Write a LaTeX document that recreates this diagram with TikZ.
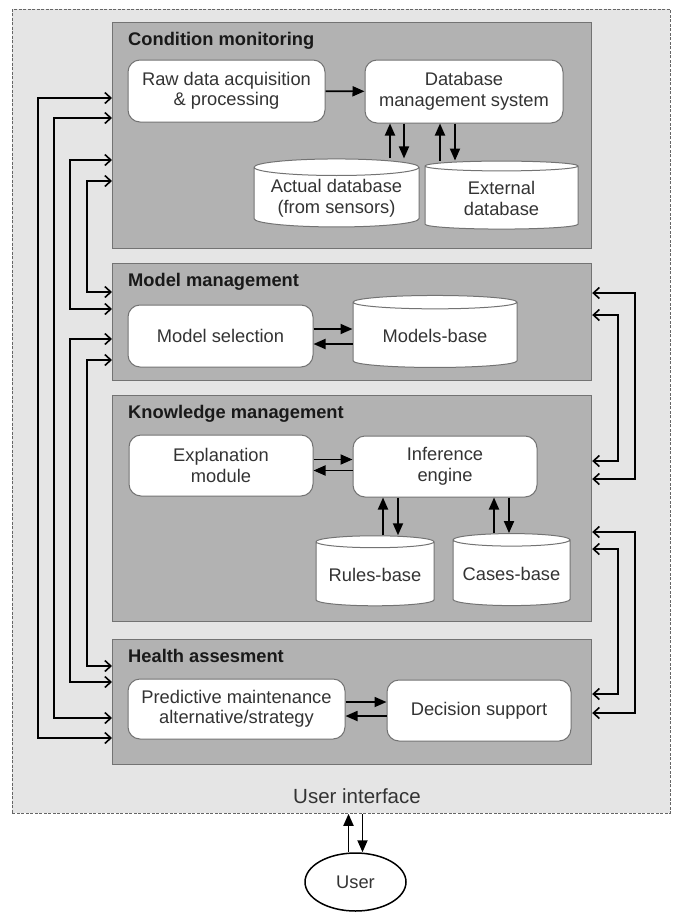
\documentclass[tikz,border=0pt]{standalone}
\usepackage{fontspec}
\setmainfont{Liberation Sans}
\usetikzlibrary{shapes.geometric,arrows.meta}

\begin{document}
\begin{tikzpicture}[x=1pt,y=-1pt,
  every node/.style={font=\fontsize{18.3}{20.5}\selectfont,text=black!80},
  frame/.style n args={2}{rectangle,draw=black!55,fill=black!30,line width=1.2pt,inner sep=0pt,anchor=north west,minimum width=#1,minimum height=#2},
  ttl/.style={font=\fontsize{18.3}{20.5}\selectfont\bfseries,text=black!90,inner sep=0pt,anchor=base west},
  box/.style n args={2}{rectangle,rounded corners=12pt,draw=black!55,fill=white,line width=1pt,align=center,minimum width=#1,minimum height=#2},
  cyl/.style n args={2}{cylinder,shape border rotate=90,aspect=0.12,draw=black!55,fill=white,line width=1pt,align=center,minimum width=#1,minimum height=#2},
  arr/.style={line width=1.8pt,-{Triangle[length=12pt,width=10pt]}},
  link/.style={line width=1.6pt,<->,>={Straight Barb[length=6pt,width=11pt]}}]
\useasboundingbox (0,0) rectangle (676,913);
% user interface and panels
\node[frame={658pt}{804pt},fill=black!10,draw=black!60,line width=0.8pt,dash pattern=on 3pt off 1.5pt] (ui) at (12,9) {};
\node[frame={479pt}{226pt}] (cm) at (112,22) {};
\node[frame={479pt}{117pt}] (mm) at (112,263) {};
\node[frame={479pt}{226pt}] (km) at (112,395) {};
\node[frame={479pt}{125pt}] (ha) at (112,639) {};
\foreach \p/\t in {cm/Condition monitoring,mm/Model management,km/Knowledge management,ha/Health assesment}
  \node[ttl] at ([xshift=16pt,yshift=-23pt]\p.north west) {\t};
% condition monitoring
\node[box={197pt}{62pt}] (raw) at (226.5,91) {Raw data acquisition\\\& processing};
\node[box={198pt}{63pt}] (dbms) at (464,91.5) {Database\\management system};
\node[cyl={165pt}{68pt}] (actual) at (336.5,198.5) {Actual database\\(from sensors)};
\node[cyl={153pt}{68pt}] (extdb) at (501.5,198.5) {External\\database};
\draw[arr] (raw) -- (dbms);
\draw[arr] ([xshift=-74pt]dbms.south |- actual.north) -- ([xshift=-74pt]dbms.south);
\draw[arr] ([xshift=-60pt]dbms.south) -- ([xshift=-60pt]dbms.south |- actual.north);
\draw[arr] ([xshift=-24pt]dbms.south |- extdb.north) -- ([xshift=-24pt]dbms.south);
\draw[arr] ([xshift=-9pt]dbms.south) -- ([xshift=-9pt]dbms.south |- extdb.north);
% model management
\node[box={185pt}{62pt}] (modsel) at (220.5,336) {Model selection};
\node[cyl={164pt}{72pt}] (modbase) at (435,336) {Models-base};
\draw[arr] ([yshift=7pt]modsel.east) -- ([yshift=7pt]modsel.east -| modbase.west);
\draw[arr] ([yshift=-8pt]modsel.east -| modbase.west) -- ([yshift=-8pt]modsel.east);
% knowledge management
\node[box={184pt}{61pt}] (expl) at (221,465.5) {Explanation\\module};
\node[box={184pt}{61pt}] (infer) at (445,466.5) {Inference\\engine};
\node[cyl={118pt}{70pt}] (rules) at (375,575) {Rules-base};
\node[cyl={117pt}{72pt}] (cases) at (511.5,574) {Cases-base};
\draw[arr] ([yshift=6pt]expl.east) -- ([yshift=6pt]expl.east -| infer.west);
\draw[arr] ([yshift=-5pt]expl.east -| infer.west) -- ([yshift=-5pt]expl.east);
\draw[arr] ([xshift=-62pt]infer.south |- rules.north) -- ([xshift=-62pt]infer.south);
\draw[arr] ([xshift=-47pt]infer.south) -- ([xshift=-47pt]infer.south |- rules.north);
\draw[arr] ([xshift=49pt]infer.south |- cases.north) -- ([xshift=49pt]infer.south);
\draw[arr] ([xshift=64pt]infer.south) -- ([xshift=64pt]infer.south |- cases.north);
% health assesment
\node[box={217pt}{60pt}] (pred) at (236.5,709) {Predictive maintenance\\alternative/strategy};
\node[box={184pt}{61pt}] (dec) at (479,710.5) {Decision support};
\draw[arr] ([yshift=7pt]pred.east) -- ([yshift=7pt]pred.east -| dec.west);
\draw[arr] ([yshift=-7pt]pred.east -| dec.west) -- ([yshift=-7pt]pred.east);
% links between panels
\foreach \a/\ya/\b/\yb/\d in {cm/76/ha/99/74,cm/96/ha/79/58,cm/138/mm/46/42,cm/159/mm/29/25,mm/76/ha/43/42,mm/97/ha/27/25}
  \draw[link] ([yshift=-\ya pt]\a.north west) -- ++(-\d,0) |- ([yshift=-\yb pt]\b.north west);
\foreach \a/\ya/\b/\yb/\d in {mm/30/km/84/43,mm/52/km/66/26,km/137/ha/74/43,km/154/ha/55/26}
  \draw[link] ([yshift=-\ya pt]\a.north east) -- ++(\d,0) |- ([yshift=-\yb pt]\b.north east);
% user
\node[font=\fontsize{20.5}{24}\selectfont] (uilab) at (357,796) {User interface};
\node[ellipse,draw=black,line width=1.5pt,minimum width=101pt,minimum height=58pt] (user) at (355.5,882) {User};
\draw[arr] ([xshift=-7pt]user.north) -- ([xshift=-7pt]user.north |- ui.south);
\draw[arr] ([xshift=7pt]user.north |- ui.south) -- ([xshift=7pt]user.north);
\end{tikzpicture}
\end{document}
